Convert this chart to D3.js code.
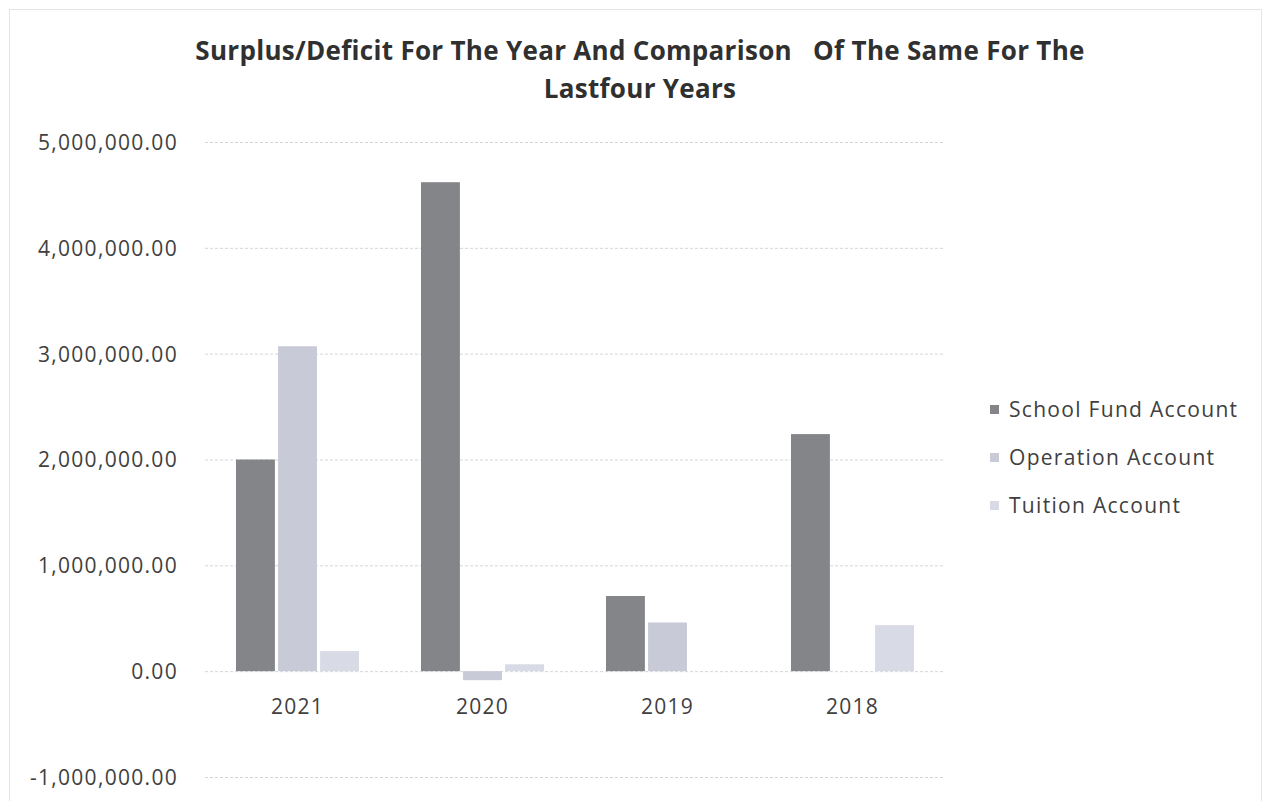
<!DOCTYPE html>
<html>
<head>
<meta charset="utf-8">
<script src="https://cdn.jsdelivr.net/npm/d3@7"></script>
<style>
  html, body { margin: 0; padding: 0; background: #ffffff; }
  svg { display: block; }
  text { font-family: "Open Sans", "DejaVu Sans", sans-serif; }
</style>
</head>
<body>
<svg id="chart" width="1266" height="801"></svg>
<script>
const titleLines = ["Surplus/Deficit For The Year And Comparison   Of The Same For The", "Lastfour Years"];
const categories = ["2021", "2020", "2019", "2018"];
const seriesNames = ["School Fund Account", "Operation Account", "Tuition Account"];
const schoolFund = [2000000, 4620000, 710000, 2240000];
const operation = [3070000, -85000, 460000, 0];
const tuition = [190000, 65000, 0, 435000];
const yTicks = [-1000000, 0, 1000000, 2000000, 3000000, 4000000, 5000000];
const colors = ["#838589", "#c8cad7", "#d8dae5"];

const seriesValues = [schoolFund, operation, tuition];
const svg = d3.select("#chart");

// outer faint border
svg.append("rect").attr("x", 9.5).attr("y", 9.5).attr("width", 1252).attr("height", 800)
  .attr("fill", "none").attr("stroke", "#e2e4ea").attr("stroke-width", 1);

const plotLeft = 205, plotRight = 945;
const y = d3.scaleLinear().domain([-1000000, 5000000]).range([777, 142]);
const x0 = d3.scaleBand().domain(categories).range([plotLeft, plotRight]).padding(0);
const step = x0.step();
const x1 = d3.scaleBand().domain(seriesNames)
  .range([(step - 123) / 2, (step + 123) / 2]).paddingInner(0.075).paddingOuter(0);

const locale = d3.formatLocale({decimal: ".", thousands: ",", grouping: [3], currency: ["", ""], minus: "-"});

// gridlines
const yAxis = d3.axisLeft(y).tickValues(yTicks).tickSize(-(plotRight - plotLeft))
  .tickFormat(locale.format(",.2f"));
const gAxis = svg.append("g").attr("transform", `translate(${plotLeft},0)`).call(yAxis);
gAxis.select(".domain").remove();
gAxis.selectAll(".tick line").attr("stroke", "#d4d6dc").attr("stroke-width", 1)
  .attr("stroke-dasharray", "3,2");
gAxis.selectAll(".tick text").attr("x", -27).attr("fill", "#404040")
  .style("font-size", "21px").style("letter-spacing", "1.3px").attr("dy", "0.35em");

// bars
const data = [];
categories.forEach((c, i) => {
  seriesNames.forEach((s, j) => {
    data.push({cat: c, series: s, value: seriesValues[j][i], color: colors[j]});
  });
});
svg.append("g").selectAll("rect").data(data).join("rect")
  .attr("x", d => x0(d.cat) + x1(d.series))
  .attr("width", x1.bandwidth())
  .attr("y", d => y(Math.max(0, d.value)))
  .attr("height", d => Math.abs(y(d.value) - y(0)))
  .attr("fill", d => d.color);

// x category labels
const xAxis = d3.axisBottom(x0).tickSize(0).tickPadding(0);
const gx = svg.append("g").attr("transform", `translate(0,${y(0)})`).call(xAxis);
gx.select(".domain").remove();
gx.selectAll(".tick text").attr("y", 43).attr("dy", 0).attr("fill", "#404040")
  .style("font-size", "21px").style("letter-spacing", "1.3px");

// title
svg.append("g").selectAll("text").data(titleLines).join("text")
  .attr("x", 640).attr("y", (d, i) => 60 + i * 38)
  .attr("text-anchor", "middle")
  .style("white-space", "pre").attr("xml:space", "preserve")
  .style("font-size", "26px").style("letter-spacing", "0.3px")
  .style("font-weight", "bold").attr("fill", "#303030")
  .text(d => d);

// legend
const lg = svg.append("g");
seriesNames.forEach((s, j) => {
  const ly = 410 + j * 48;
  lg.append("rect").attr("x", 990).attr("y", ly - 5).attr("width", 9).attr("height", 9)
    .attr("fill", colors[j]);
  lg.append("text").attr("x", 1009).attr("y", ly).attr("dy", "0.35em")
    .attr("fill", "#404040").style("font-size", "21px").style("letter-spacing", "1.3px").text(s);
});
</script>
</body>
</html>
